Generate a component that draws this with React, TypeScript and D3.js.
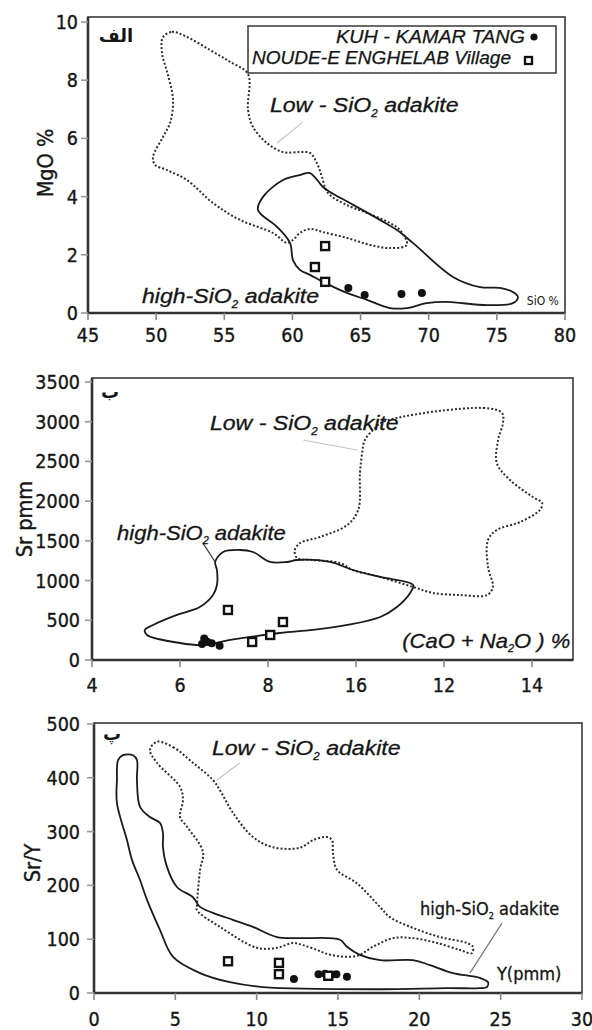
import React from "react";
import * as d3 from "d3";

type Pt = [number, number];

// ---------- panel الف : MgO % vs SiO2 % ----------
const siKuh: Pt[] = [[64.1, 0.86], [65.3, 0.62], [68.0, 0.65], [69.5, 0.69]];
const siNoude: Pt[] = [[62.4, 2.3], [61.65, 1.58], [62.4, 1.07]];
const siLowAdakite: Pt[] = [
  [50.5, 9.48], [51.16, 9.66], [52.12, 9.52], [53.95, 9.04], [55.42, 8.63], [56.74, 8.21],
  [56.74, 6.98], [57.11, 6.39], [58.13, 5.84], [59.31, 5.53], [60.55, 5.53], [61.29, 5.5],
  [61.8, 5.15], [62.17, 4.67], [62.61, 4.12], [64.0, 3.71], [65.47, 3.44], [67.16, 3.09],
  [67.89, 2.85], [68.4, 2.34], [67.16, 2.23], [65.69, 2.34], [64.0, 2.58], [62.24, 2.78],
  [61.29, 2.89], [60.55, 2.75], [60.04, 2.51], [59.6, 2.41], [58.57, 2.75], [56.15, 3.2],
  [54.17, 3.78], [52.26, 4.57], [50.8, 4.91], [49.92, 5.09], [49.77, 5.36], [50.5, 6.05],
  [51.02, 6.53], [51.24, 7.32], [50.87, 8.18], [50.43, 8.93],
];
const siHighAdakite: Pt[] = [
  [57.47, 3.54], [57.84, 3.99], [59.31, 4.57], [60.55, 4.74], [61.29, 4.81], [62.24, 4.33],
  [62.75, 4.16], [64.22, 3.78], [66.42, 3.2], [67.67, 2.85], [68.84, 2.41], [71.78, 1.24],
  [73.76, 0.89], [75.23, 0.86], [76.18, 0.72], [76.55, 0.55], [76.18, 0.34], [74.27, 0.27],
  [71.34, 0.38], [69.87, 0.34], [68.4, 0.17], [67.16, 0.17], [65.47, 0.45], [64.0, 0.69],
  [62.24, 1.07], [61.29, 1.31], [60.55, 1.48], [60.04, 1.82], [59.82, 2.41], [58.87, 2.96],
];
const siXTicks = [45, 50, 55, 60, 65, 70, 75, 80];
const siYTicks = [0, 2, 4, 6, 8, 10];

// ---------- panel ب : Sr vs (CaO + Na2O) ----------
const caKuh: Pt[] = [[6.55, 270], [6.62, 230], [6.5, 200], [6.72, 210], [6.9, 180]];
const caNoude: Pt[] = [[7.09, 630], [7.64, 227], [8.05, 315], [8.34, 478]];
const caLowAdakite: Pt[] = [
  [10.61, 2996], [12.89, 3173], [13.32, 3110], [13.34, 2984], [13.23, 2770], [13.2, 2480],
  [13.5, 2266], [14.02, 2052], [14.23, 1977], [14.18, 1889], [13.73, 1737], [13.2, 1637],
  [13.0, 1511], [13.0, 1171], [13.11, 919], [12.98, 818], [12.36, 818], [11.75, 844],
  [11.3, 919], [10.55, 1045], [9.93, 1133], [9.64, 1221], [9.02, 1259], [8.66, 1284],
  [8.61, 1385], [8.73, 1473], [9.18, 1549], [9.8, 1700], [10.05, 1889], [10.09, 2354],
  [10.14, 2606], [10.2, 2770], [10.39, 2896],
];
const caHighAdakite: Pt[] = [
  [6.8, 1234], [6.98, 1360], [7.36, 1385], [7.66, 1360], [8.05, 1234], [8.43, 1234],
  [8.66, 1259], [9.41, 1234], [9.93, 1133], [10.55, 1045], [11.3, 944], [11.23, 844],
  [10.93, 667], [10.55, 541], [9.8, 441], [9.02, 378], [8.27, 340], [7.14, 252],
  [6.52, 189], [6.0, 214], [5.25, 315], [5.2, 378], [5.39, 441], [5.93, 567],
  [6.45, 667], [6.75, 818], [6.84, 944], [6.84, 1133],
];
const caXTicks = [4, 6, 8, 10, 12, 14];
const caXTickLabels = ["4", "6", "8", "16", "12", "14"];
const caYTicks = [0, 500, 1000, 1500, 2000, 2500, 3000, 3500];

// ---------- panel پ : Sr/Y vs Y ----------
const yKuh: Pt[] = [[12.29, 26], [13.8, 35], [14.2, 36], [14.6, 34], [14.9, 35], [15.55, 30]];
const yNoude: Pt[] = [[8.24, 59], [11.37, 56], [11.37, 35], [14.4, 32]];
const yLowAdakite: Pt[] = [
  [3.87, 467], [4.86, 457], [6.08, 428], [7.31, 396], [7.74, 377], [8.54, 335],
  [9.77, 290], [11.0, 271], [12.66, 270], [13.46, 284], [14.32, 290], [14.63, 284],
  [14.69, 260], [14.94, 229], [16.16, 204], [17.58, 160], [18.19, 141], [19.61, 121],
  [21.27, 104], [22.93, 93], [23.29, 86], [23.23, 74], [22.5, 80], [21.08, 93],
  [19.61, 102], [18.38, 102], [17.15, 86], [16.16, 69], [14.51, 71], [13.71, 80],
  [12.85, 89], [12.23, 93], [11.25, 84], [10.02, 84], [7.74, 123], [6.33, 154],
  [6.33, 164], [6.52, 229], [6.7, 262], [5.72, 309], [5.29, 327], [5.47, 359],
  [5.29, 383], [3.87, 428], [3.44, 452],
];
const yHighAdakite: Pt[] = [
  [1.48, 433], [1.78, 442], [2.4, 442], [2.64, 433], [2.64, 396], [2.83, 346],
  [3.44, 327], [4.06, 316], [4.24, 297], [4.24, 271], [4.49, 234], [5.1, 197],
  [6.08, 178], [6.52, 160], [7.31, 149], [8.54, 136], [9.77, 123], [11.25, 104],
  [12.66, 102], [15.12, 99], [15.55, 86], [16.35, 71], [17.58, 61], [19.61, 61],
  [20.65, 52], [22.06, 37], [23.72, 28], [24.22, 20], [24.15, 11], [23.72, 9],
  [21.7, 9], [17.58, 7], [10.39, 11], [8.36, 20], [6.52, 37], [4.86, 67],
  [4.06, 117], [3.26, 173], [2.83, 210], [2.34, 247], [2.03, 284], [1.41, 353],
  [1.41, 396],
];
const yXTicks = [0, 5, 10, 15, 20, 25, 30];
const yYTicks = [0, 100, 200, 300, 400, 500];

const legendNames = ["KUH -  KAMAR TANG", "NOUDE-E ENGHELAB Village"];

const NUM_FONT = "'DejaVu Sans Condensed', 'DejaVu Sans', sans-serif";
const IT_FONT = "'Liberation Sans', Arial, sans-serif";
const AR_FONT = "'DejaVu Sans', sans-serif";
const INK = "#151515";

type Scale = d3.ScaleLinear<number, number>;

function Axes(props: {
  x: Scale; y: Scale; top: number; right: number;
  xTicks: number[]; xLabels: string[]; yTicks: number[]; yLabels: string[];
  xLabelBase: number; yLabelRight: number;
  title: string; titlePos: Pt; yTitle: string; yTitlePos: Pt;
}) {
  const { x, y, top, right } = props;
  const x0 = x.range()[0];
  const y0 = y.range()[0];
  const numStyle = { fontFamily: NUM_FONT, fill: INK, stroke: INK, strokeWidth: 0.35 };
  return (
    <g>
      <rect x={x0} y={top} width={right - x0} height={y0 - top} fill="none" stroke="#444" strokeWidth={1.7} />
      <line x1={x0} x2={x0} y1={top} y2={y0} stroke="#333" strokeWidth={2.6} />
      <line x1={x0} x2={right} y1={y0} y2={y0} stroke="#333" strokeWidth={2.6} />
      {props.yTicks.map((t, i) => (
        <g key={"y" + i}>
          <line x1={x0 - 7} x2={x0} y1={y(t)} y2={y(t)} stroke="#999" strokeWidth={1.6} />
          <text x={props.yLabelRight} y={y(t)} dy="0.36em" textAnchor="end" fontSize={19.5}
            style={numStyle}>{props.yLabels[i]}</text>
        </g>
      ))}
      {props.xTicks.map((t, i) => (
        <g key={"x" + i}>
          <line x1={x(t)} x2={x(t)} y1={y0} y2={y0 + 7} stroke="#888" strokeWidth={1.6} />
          <text x={x(t)} y={props.xLabelBase} textAnchor="middle" fontSize={19.5}
            style={numStyle}>{props.xLabels[i]}</text>
        </g>
      ))}
      <text x={props.titlePos[0]} y={props.titlePos[1]} textAnchor="middle" fontFamily={AR_FONT}
        fontWeight="bold" fontSize={18} fill={INK}>{props.title}</text>
      <text transform={`translate(${props.yTitlePos[0]},${props.yTitlePos[1]}) rotate(-90)`}
        textAnchor="middle" dy="0.36em" fontSize={21.5} style={numStyle}>{props.yTitle}</text>
    </g>
  );
}

function Field({ pts, x, y, dotted }: { pts: Pt[]; x: Scale; y: Scale; dotted?: boolean }) {
  const line = d3.line<Pt>().x((d) => x(d[0])).y((d) => y(d[1])).curve(d3.curveCatmullRomClosed.alpha(0.5));
  return (
    <path d={line(pts) || ""} fill="none" stroke={dotted ? "#2e2e2e" : "#1a1a1a"}
      strokeWidth={dotted ? 2 : 1.8} strokeDasharray={dotted ? "2 2" : undefined} />
  );
}

function Samples({ kuh, noude, x, y }: { kuh: Pt[]; noude: Pt[]; x: Scale; y: Scale }) {
  return (
    <g>
      {kuh.map((d, i) => <circle key={"c" + i} cx={x(d[0])} cy={y(d[1])} r={4} fill="#111" />)}
      {noude.map((d, i) => (
        <rect key={"s" + i} x={x(d[0]) - 4} y={y(d[1]) - 4} width={8} height={8}
          fill="#fff" stroke="#111" strokeWidth={2.4} />
      ))}
    </g>
  );
}

function AdakiteLabel({ at, low, size = 21, sx = 1.1, italic = true }: {
  at: Pt; low?: boolean; size?: number; sx?: number; italic?: boolean;
}) {
  const head = low ? "Low - SiO" : "high-SiO";
  return (
    <text transform={`translate(${at[0]},${at[1]}) scale(${sx},1)`}
      fontFamily={italic ? IT_FONT : NUM_FONT} fontStyle={italic ? "italic" : "normal"}
      fontSize={size} fill={INK} stroke={INK} strokeWidth={0.3}>
      {head}
      <tspan fontSize={size * 0.5} dy={size * 0.22}>2</tspan>
      <tspan dy={-size * 0.22}>{" adakite"}</tspan>
    </text>
  );
}

export default function App() {
  // panel الف
  const x1 = d3.scaleLinear().domain([45, 80]).range([88, 565]);
  const y1 = d3.scaleLinear().domain([0, 10]).range([313, 22]);
  // panel ب
  const x2 = d3.scaleLinear().domain([4, 14]).range([92, 532]);
  const y2 = d3.scaleLinear().domain([0, 3500]).range([660, 382]);
  // panel پ
  const x3 = d3.scaleLinear().domain([0, 30]).range([94, 582]);
  const y3 = d3.scaleLinear().domain([0, 500]).range([993, 724]);

  const P = (x: Scale, y: Scale, d: Pt): Pt => [x(d[0]), y(d[1])];

  return (
    <svg width={592} height={1030} style={{ position: "absolute", left: 0, top: 0, background: "#fff" }}>
      <rect width={592} height={1030} fill="#fff" />

      {/* ---- panel الف ---- */}
      <Field pts={siLowAdakite} x={x1} y={y1} dotted />
      <Field pts={siHighAdakite} x={x1} y={y1} />
      <Samples kuh={siKuh} noude={siNoude} x={x1} y={y1} />
      <line x1={x1(60.77)} y1={y1(6.56)} x2={x1(58.87)} y2={y1(5.84)} stroke="#c4c4c4" strokeWidth={1.2} />
      <AdakiteLabel at={P(x1, y1, [58.35, 6.91])} low />
      <AdakiteLabel at={P(x1, y1, [48.96, 0.34])} />
      <text x={x1(77.2)} y={y1(0.27)} fontFamily={NUM_FONT} fontSize={12} fill={INK}>SiO %</text>
      <rect x={248} y={26} width={308} height={47} fill="#fff" stroke="#444" strokeWidth={1.6} />
      <text x={525} y={43} textAnchor="end" fontFamily={IT_FONT} fontStyle="italic" fontSize={18.5}
        fill={INK} stroke={INK} strokeWidth={0.25} textLength={189} lengthAdjust="spacingAndGlyphs">{legendNames[0]}</text>
      <circle cx={534} cy={37} r={3.6} fill="#111" />
      <text x={511} y={64} textAnchor="end" fontFamily={IT_FONT} fontStyle="italic" fontSize={18.5}
        fill={INK} stroke={INK} strokeWidth={0.25} textLength={259} lengthAdjust="spacingAndGlyphs">{legendNames[1]}</text>
      <rect x={525} y={57} width={7} height={7} fill="#fff" stroke="#111" strokeWidth={2.3} />
      <Axes x={x1} y={y1} top={17} right={565} xTicks={siXTicks} xLabels={siXTicks.map(String)}
        yTicks={siYTicks} yLabels={siYTicks.map(String)} xLabelBase={342} yLabelRight={78}
        title="الف" titlePos={[116, 42]} yTitle="MgO %" yTitlePos={[45, 163]} />

      {/* ---- panel ب ---- */}
      <Field pts={caLowAdakite} x={x2} y={y2} dotted />
      <Field pts={caHighAdakite} x={x2} y={y2} />
      <Samples kuh={caKuh} noude={caNoude} x={x2} y={y2} />
      <line x1={x2(8.8)} y1={y2(2770)} x2={x2(10.02)} y2={y2(2644)} stroke="#c4c4c4" strokeWidth={1.2} />
      <line x1={x2(6.52)} y1={y2(1473)} x2={x2(6.8)} y2={y2(1234)} stroke="#333" strokeWidth={1.3} />
      <AdakiteLabel at={P(x2, y2, [6.68, 2896])} low />
      <AdakiteLabel at={P(x2, y2, [4.57, 1511])} size={20} />
      <text transform={`translate(${x2(11.05)},${y2(151)}) scale(1.1,1)`} fontFamily={IT_FONT}
        fontStyle="italic" fontSize={20} fill={INK} stroke={INK} strokeWidth={0.3}>
        (CaO + Na<tspan fontSize={10} dy={4}>2</tspan><tspan dy={-4}>O ) %</tspan>
      </text>
      <Axes x={x2} y={y2} top={378} right={573} xTicks={caXTicks} xLabels={caXTickLabels}
        yTicks={caYTicks} yLabels={caYTicks.map(String)} xLabelBase={692} yLabelRight={80}
        title="ب" titlePos={[110, 398]} yTitle="Sr pmm" yTitlePos={[24, 519]} />

      {/* ---- panel پ ---- */}
      <Field pts={yLowAdakite} x={x3} y={y3} dotted />
      <Field pts={yHighAdakite} x={x3} y={y3} />
      <Samples kuh={yKuh} noude={yNoude} x={x3} y={y3} />
      <line x1={x3(7.56)} y1={y3(396)} x2={x3(8.97)} y2={y3(428)} stroke="#c4c4c4" strokeWidth={1.2} />
      <line x1={x3(25.08)} y1={y3(130)} x2={x3(23.11)} y2={y3(37)} stroke="#777" strokeWidth={1.2} />
      <AdakiteLabel at={P(x3, y3, [7.25, 442])} low />
      <AdakiteLabel at={P(x3, y3, [20.04, 145])} italic={false} size={18} sx={1} />
      <text x={x3(24.77)} y={y3(24)} fontFamily={NUM_FONT} fontSize={18} fill={INK} stroke={INK}
        strokeWidth={0.3}>Y(pmm)</text>
      <Axes x={x3} y={y3} top={723} right={582} xTicks={yXTicks} xLabels={yXTicks.map(String)}
        yTicks={yYTicks} yLabels={yYTicks.map(String)} xLabelBase={1026} yLabelRight={80}
        title="پ" titlePos={[112, 740]} yTitle="Sr/Y" yTitlePos={[32, 863]} />
    </svg>
  );
}
